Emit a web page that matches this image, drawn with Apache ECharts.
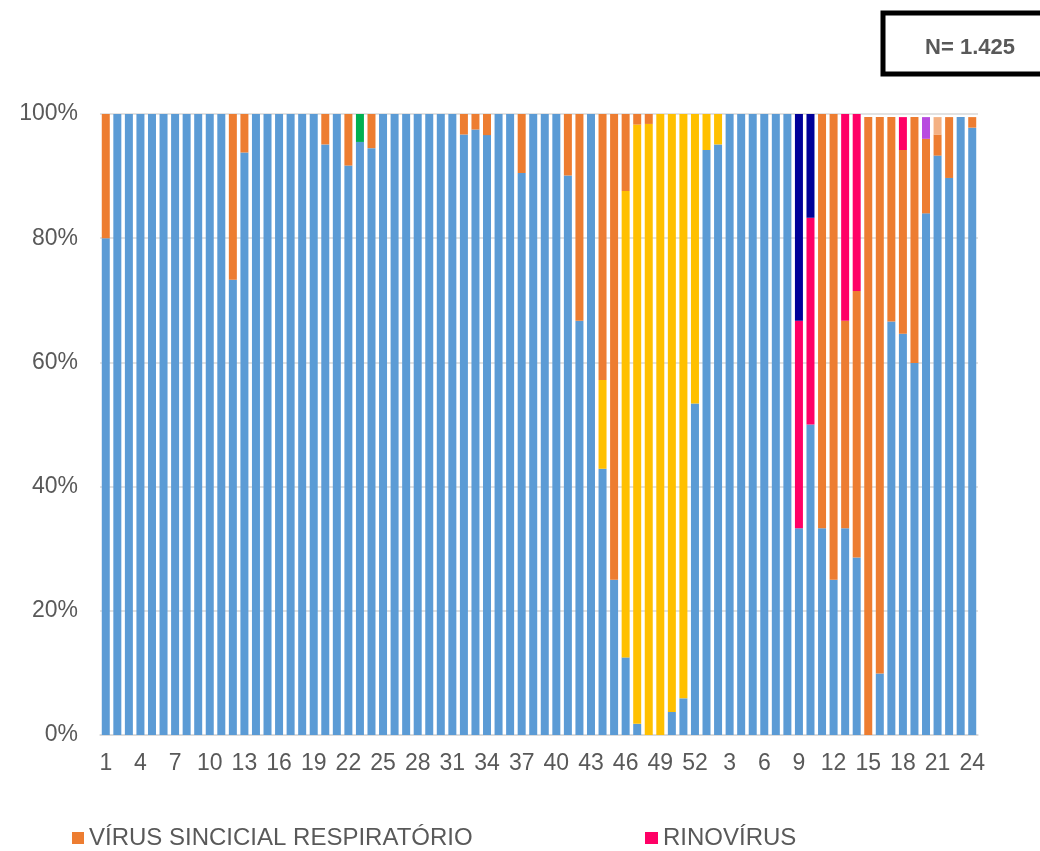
<!DOCTYPE html>
<html>
<head>
<meta charset="utf-8">
<script src="https://cdn.jsdelivr.net/npm/echarts@6/dist/echarts.min.js"></script>
<style>
    html, body { margin: 0; padding: 0; background: #fff; }
    #chart { width: 1040px; height: 851px; }
</style>
</head>
<body>
<div id="chart"></div>
<script>
// semanas epidemiologicas (1-52 e depois 1-24)
var semanas = [
    1,2,3,4,5,6,7,8,9,10,11,12,13,14,15,16,17,18,19,20,21,22,23,24,25,26,
    27,28,29,30,31,32,33,34,35,36,37,38,39,40,41,42,43,44,45,46,47,48,49,50,51,52,
    1,2,3,4,5,6,7,8,9,10,11,12,13,14,15,16,17,18,19,20,21,22,23,24
];

// % por semana
var azul = [
    80,100,100,100,100,100,100,100,100,100,
    100,73.3,93.8,100,100,100,100,100,100,95.1,
    100,91.7,95.5,94.5,100,100,100,100,100,100,
    100,96.7,97.5,96.6,100,100,90.5,100,100,100,
    90.1,66.7,100,42.86,25,12.5,1.8,0,0,3.7,
    5.9,53.4,94.2,95.1,100,100,100,100,100,100,
    33.3,50,33.3,25,33.3,28.6,0,9.9,66.6,64.6,
    59.9,84,93.3,89.7,99.5,97.8
];
var amarelo = [
    0,0,0,0,0,0,0,0,0,0,
    0,0,0,0,0,0,0,0,0,0,
    0,0,0,0,0,0,0,0,0,0,
    0,0,0,0,0,0,0,0,0,0,
    0,0,0,14.29,0,75.1,96.5,98.4,100,96.3,
    94.1,46.6,5.8,4.9,0,0,0,0,0,0,
    0,0,0,0,0,0,0,0,0,0,
    0,0,0,0,0,0
];
var vsr = [
    20,0,0,0,0,0,0,0,0,0,
    0,26.7,6.2,0,0,0,0,0,0,4.9,
    0,8.3,0,5.5,0,0,0,0,0,0,
    0,3.3,2.5,3.4,0,0,9.5,0,0,0,
    9.9,33.3,0,42.85,75,12.4,1.7,1.6,0,0,
    0,0,0,0,0,0,0,0,0,0,
    0,0,66.7,75,33.4,42.9,99.5,89.6,32.9,29.6,
    39.6,12,3.4,9.8,0,1.7
];
var rino = [
    0,0,0,0,0,0,0,0,0,0,
    0,0,0,0,0,0,0,0,0,0,
    0,0,0,0,0,0,0,0,0,0,
    0,0,0,0,0,0,0,0,0,0,
    0,0,0,0,0,0,0,0,0,0,
    0,0,0,0,0,0,0,0,0,0,
    33.4,33.3,0,0,33.3,28.5,0,0,0,5.3,
    0,0,0,0,0,0
];
var marinho = [
    0,0,0,0,0,0,0,0,0,0,
    0,0,0,0,0,0,0,0,0,0,
    0,0,0,0,0,0,0,0,0,0,
    0,0,0,0,0,0,0,0,0,0,
    0,0,0,0,0,0,0,0,0,0,
    0,0,0,0,0,0,0,0,0,0,
    33.3,16.7,0,0,0,0,0,0,0,0,
    0,0,0,0,0,0
];
var verde = [
    0,0,0,0,0,0,0,0,0,0,
    0,0,0,0,0,0,0,0,0,0,
    0,0,4.5,0,0,0,0,0,0,0,
    0,0,0,0,0,0,0,0,0,0,
    0,0,0,0,0,0,0,0,0,0,
    0,0,0,0,0,0,0,0,0,0,
    0,0,0,0,0,0,0,0,0,0,
    0,0,0,0,0,0
];
var roxo = [
    0,0,0,0,0,0,0,0,0,0,
    0,0,0,0,0,0,0,0,0,0,
    0,0,0,0,0,0,0,0,0,0,
    0,0,0,0,0,0,0,0,0,0,
    0,0,0,0,0,0,0,0,0,0,
    0,0,0,0,0,0,0,0,0,0,
    0,0,0,0,0,0,0,0,0,0,
    0,3.5,0,0,0,0
];
var salmao = [
    0,0,0,0,0,0,0,0,0,0,
    0,0,0,0,0,0,0,0,0,0,
    0,0,0,0,0,0,0,0,0,0,
    0,0,0,0,0,0,0,0,0,0,
    0,0,0,0,0,0,0,0,0,0,
    0,0,0,0,0,0,0,0,0,0,
    0,0,0,0,0,0,0,0,0,0,
    0,0,2.8,0,0,0
];

var fonte = 'Liberation Sans, Arial, sans-serif';
var cinza = '#595959';

function serie(nome, dados, cor){
    return {
        name: nome,
        type: 'bar',
        stack: 'total',
        barWidth: 8,
        data: dados,
        itemStyle: { color: cor },
        emphasis: { disabled: true }
    };
}

echarts.init(document.getElementById('chart')).setOption({
    animation: false,
    textStyle: { fontFamily: fonte },
    grid: {
        left: 100,
        right: 62,
        top: 114,
        bottom: 116
    },
    legend: [
        {
            data: ['VÍRUS SINCICIAL RESPIRATÓRIO'],
            left: 72,
            top: 826,
            padding: 0,
            icon: 'rect',
            itemWidth: 12,
            itemHeight: 12,
            textStyle: { fontSize: 24, color: cinza, fontFamily: fonte }
        },
        {
            data: ['RINOVÍRUS'],
            left: 645,
            top: 826,
            padding: 0,
            icon: 'rect',
            itemWidth: 13,
            itemHeight: 12,
            textStyle: { fontSize: 24, color: cinza, fontFamily: fonte }
        }
    ],
    xAxis: {
        type: 'category',
        data: semanas,
        axisTick: { show: false },
        axisLine: {
            lineStyle: { color: '#d9d9d9', width: 1.5 }
        },
        axisLabel: {
            interval: 2,
            margin: 17,
            fontSize: 23,
            color: cinza,
            fontFamily: fonte
        }
    },
    yAxis: {
        type: 'value',
        min: 0,
        max: 100,
        interval: 20,
        axisLine: { show: false },
        axisTick: { show: false },
        splitLine: {
            lineStyle: { color: '#d9d9d9', width: 1.5 }
        },
        axisLabel: {
            formatter: '{value}%',
            margin: 22,
            fontSize: 23,
            color: cinza,
            fontFamily: fonte
        }
    },
    graphic: [
        {
            type: 'rect',
            shape: { x: 883, y: 13, width: 200, height: 61 },
            style: { fill: '#fff', stroke: '#000', lineWidth: 5 }
        },
        {
            type: 'text',
            x: 970,
            y: 48,
            style: {
                text: 'N= 1.425',
                fill: cinza,
                font: 'bold 22px ' + fonte,
                align: 'center',
                verticalAlign: 'middle'
            }
        }
    ],
    series: [
        serie('SARS-CoV-2', azul, '#5b9bd5'),
        serie('INFLUENZA', amarelo, '#ffc000'),
        serie('VÍRUS SINCICIAL RESPIRATÓRIO', vsr, '#ed7d31'),
        serie('RINOVÍRUS', rino, '#ff0066'),
        serie('ADENOVÍRUS', marinho, '#000099'),
        serie('METAPNEUMOVÍRUS', verde, '#00b050'),
        serie('PARAINFLUENZA', roxo, '#b84be0'),
        serie('BOCAVÍRUS', salmao, '#f4b183')
    ]
});
</script>
</body>
</html>
